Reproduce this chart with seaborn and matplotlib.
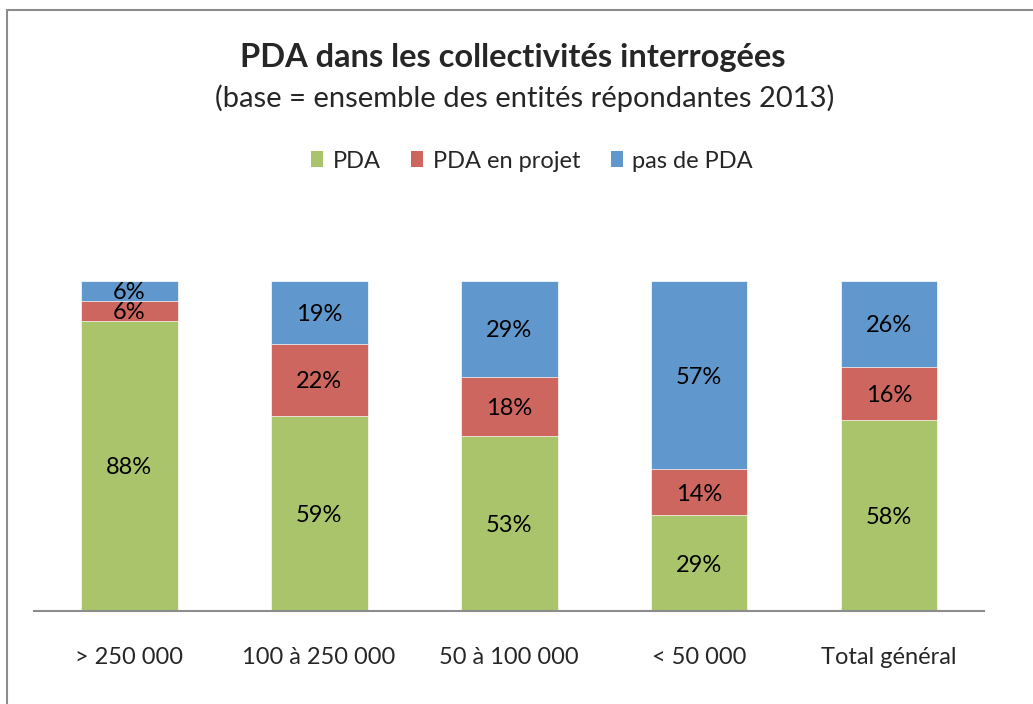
import numpy as np
import pandas as pd
import matplotlib
matplotlib.use('Agg')
import matplotlib.pyplot as plt
from matplotlib.lines import Line2D
from matplotlib.patches import Patch
import seaborn as sns

########################################################################################################################################

categories = ['> 250 000', '100 à 250 000', '50 à 100 000', '< 50 000', 'Total général']
pda = [88, 59, 53, 29, 58]
pda_projet = [6, 22, 18, 14, 16]
pas_pda = [6, 19, 29, 57, 26]

series_names = ['PDA', 'PDA en projet', 'pas de PDA']
colors = {'PDA': '#AAC46B', 'PDA en projet': '#CD665E', 'pas de PDA': '#6097CC'}

########################################################################################################################################

sns.set_style('white')
plt.rcParams['font.family'] = ['Lato', 'DejaVu Sans']

df = pd.DataFrame({'cat': categories, 'PDA': pda, 'PDA en projet': pda_projet, 'pas de PDA': pas_pda})
df['top_green'] = df['PDA']
df['top_red'] = df['PDA'] + df['PDA en projet']
df['top_blue'] = df['top_red'] + df['pas de PDA']

fig = plt.figure(figsize = (10.33, 7.04), dpi = 100)
ax = fig.add_axes([34/1033, 93/704, 950/1033, 330/704])

#stacked bars drawn back to front (cumulative heights)
bar_w = 97/190
bar_kw = dict(width = bar_w, saturation = 1, edgecolor = 'white', linewidth = 0.5, ax = ax)
sns.barplot(data = df, x = 'cat', y = 'top_blue', color = colors['pas de PDA'], **bar_kw)
sns.barplot(data = df, x = 'cat', y = 'top_red', color = colors['PDA en projet'], **bar_kw)
sns.barplot(data = df, x = 'cat', y = 'top_green', color = colors['PDA'], **bar_kw)

#segment labels
for i, row in df.iterrows():
    bottoms = [0, row['top_green'], row['top_red']]
    for name, b in zip(series_names, bottoms):
        v = row[name]
        ax.text(i, b + v/2, f'{v}%', ha = 'center', va = 'center_baseline', fontsize = 17, color = 'black')

ax.set_xlim(-0.5, 4.5)
ax.set_ylim(0, 100)
ax.set_xlabel('')
ax.set_ylabel('')
ax.set_yticks([])
for s in ['top', 'right', 'left']:
    ax.spines[s].set_visible(False)
ax.spines['bottom'].set_color('#8C8C8C')
ax.spines['bottom'].set_linewidth(1.5)
ax.tick_params(axis = 'x', length = 0, pad = 26, labelsize = 17)

#titles
fig.text(513/1033, 1 - 58/704, 'PDA dans les collectivités interrogées', ha = 'center', va = 'center',
         fontsize = 23.5, fontweight = 'bold')
fig.text(525/1033, 1 - 98/704, '(base = ensemble des entités répondantes 2013)', ha = 'center', va = 'center',
         fontsize = 21)

#legend
handles = [Patch(facecolor = colors[n], edgecolor = 'none') for n in series_names]
fig.legend(handles, series_names, loc = 'center', bbox_to_anchor = (532/1033, 1 - 161/704), ncol = 3,
           frameon = False, fontsize = 17, handlelength = 0.5, handleheight = 0.65, handletextpad = 0.4,
           columnspacing = 1.3)

#chart border
fig.add_artist(Line2D([7/1033, 1], [1 - 10/704, 1 - 10/704], color = '#8C8C8C', linewidth = 1.5))
fig.add_artist(Line2D([7/1033, 7/1033], [0, 1 - 10/704], color = '#8C8C8C', linewidth = 1.5))

fig.savefig('out.png', dpi = 100)
